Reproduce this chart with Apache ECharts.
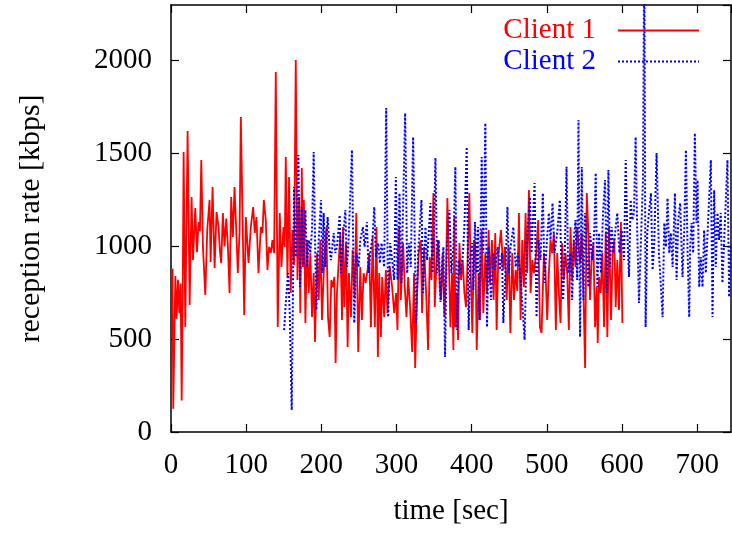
<!DOCTYPE html>
<html><head><meta charset="utf-8">
<script src="https://cdn.jsdelivr.net/npm/echarts@6/dist/echarts.min.js"></script>
<style>html,body{margin:0;padding:0;background:#fff}#c{width:732px;height:533px}</style>
</head><body><div id="c"></div>
<script>
const seriesNames = ['Client 1', 'Client 2'];
const xTickMin = 0, xTickMax = 745, xTickStep = 100;
const yTickMin = 0, yTickMax = 2300, yTickStep = 500;

const client1Time = [2,3,5.8,7.5,9.3,11.1,12.8,14.2,15.5,16.8,19,22.1,24.8,27.4,29.2,32.3,34.5,36.7,38.5,40.3,42.5,45.6,48.2,51.3,52.7,55.3,58,60.6,63.3,65,66.8,69,71.2,73.5,75.7,77.9,80.1,82.3,84.5,86.7,88.9,91.2,
92.9,97.4,99.6,103.1,106.2,109.3,111.5,113.7,116.4,119.5,121.7,123.5,126.1,128.3,130.5,132.8,135,137.2,139.4,142,144.7,146.9,149.6,151.3,152.7,154.9,157.1,159.3,161.5,163.7,166,168.2,170.4,172,174,175.5,176.8,
178.8,181,183.2,185.4,187.6,189.8,191.6,194.3,196.5,198.7,200.9,204,206.7,208.9,211.1,213.3,215.5,217.3,219,220.8,223,225.2,227.5,228.8,230.5,232.8,235,236.7,239.4,241.6,244.3,246.5,249.1,251.8,254,256.2,258.9,261.5,263.7,266,268.2,
271.2,273.4,275.2,277,279.2,281,283.6,285.8,288,291.1,294.2,296.9,299.5,301.3,303.5,305.7,308.8,311,313.3,315.5,318.1,320.8,323.4,324.8,327.4,329.6,332.3,334,336.7,339.8,342,344.2,346.5,349.1,350.9,353.5,355.3,357.5,
359.3,361.5,363.7,365.9,367.7,369.5,371.7,373.9,375.7,377,378.3,380.1,381.9,383.7,385.9,388.1,390.3,392.5,394.7,396.9,398.7,400.9,403.1,404.9,406.7,409.3,411.1,413.3,415.5,418.2,420.4,422.6,424.4,427,429.2,431.4,433.2,435.4,439,442.1,444.3,446.5,449.1,451.5,
454,456.3,458.5,460.7,462.9,465.1,467.3,469.5,471.7,473.9,476.2,478.4,480.6,482.8,485.9,488.5,490.8,493,496.1,498.3,500.5,502.7,504.9,507.1,509.4,512,513.8,516,518.2,520.4,522.6,524.8,527.1,529.3,531.5,533.7,535.9,538.1,540.3,
544.2,546.5,548.7,550.9,553.1,555.3,557.5,559.7,561.9,564.2,566.4,567.7,569.5,571.7,573.9,576.1,578.3,580.5,582.7,585.4,587.6,589.8,591.6,593.8,596,598.6,600.5];
const client1Rate = [880,125,840,610,820,640,800,170,700,1508,565,1621,684,1266,926,1206,969,1131,1080,1465,997,738,1088,1250,916,1320,884,1185,1104,980,910,1180,1000,1150,1000,749,1266,1050,1320,1100,856,1072,
1697,630,1158,910,1104,1212,1072,1158,856,1104,1072,1250,1142,873,997,964,1034,964,1939,565,1180,889,1104,997,1481,835,1373,749,1088,900,2004,819,1266,641,1422,889,1250,
587,1034,749,964,619,856,485,964,711,1034,603,943,1104,619,512,819,781,835,372,749,910,1072,603,1104,673,1018,458,856,619,980,727,1180,431,889,603,856,803,873,964,565,1050,
565,1104,404,856,512,835,619,873,641,889,781,641,749,549,1104,711,1018,781,619,835,673,431,856,345,749,964,1034,641,997,711,442,943,819,1287,673,943,1034,781,
711,964,619,856,1260,964,565,856,442,1158,565,749,496,1018,819,926,749,673,943,1287,856,533,1034,997,442,856,603,1088,641,964,749,1088,803,1034,711,1072,549,943,1088,873,997,711,997,533,
964,711,873,760,1180,603,1034,781,1180,856,1303,749,926,856,964,1142,565,533,964,856,603,856,1034,964,1072,549,964,749,587,1018,819,964,856,549,1104,819,1034,889,1104,
910,1072,749,345,1287,1072,711,943,1018,565,781,479,835,749,964,565,1072,512,1104,603,964,1034,673,926,657,1131,587];

const client2Time = [150.5,152.7,155.8,158,160.6,163.7,166,169.5,171.7,173.9,176.6,178.8,181,183.2,185.4,187.6,189.8,192,193.4,196,199.6,201.3,203.1,205.3,208.4,211.1,212.8,216.4,218.6,220.8,224.4,226.1,228.8,231.9,234.1,236.3,240.7,243.8,246.5,249.6,251.8,255.3,257.5,260.6,262.9,265.1,268.2,
270.4,272.6,275.7,277.9,280.1,283.6,286.3,288.9,291.6,294.2,296.9,299.1,301.3,304,306.6,311.5,314.2,316.8,319,322.1,324.3,326.1,328.8,331,333.2,335.4,338.5,340.7,342.9,345.1,347.8,350,351.8,354,356.2,358.5,360.5,
362.4,364.6,366.8,370.4,373,375.7,378.3,380.6,382.8,385,388.1,390.3,393.4,396,397.8,400.5,402.2,404.4,406.7,408.4,410.2,413.3,415.5,418.2,420.4,422.6,425.7,428.8,431,434.5,437.6,440.3,442.1,445.6,
447.6,449.6,451.8,455.4,458.5,461.6,465.1,468.2,470.4,473.1,474.8,477.5,479.7,483.7,486.3,489,491.6,494.7,497,499.6,502.7,504.9,507.6,510.2,513.8,517.3,519.5,521.7,524,526.2,528.4,531.5,533.7,535.9,538.1,540.3,542.1,
544.2,546.5,548.7,550.9,553.1,555.3,557.5,560.6,563.3,565,567.2,569.5,572.1,574.8,577.4,580.1,581.9,584.1,586.3,588.5,591.6,593.8,596.5,599.6,602.7,604.9,607.1,609.3,611.5,613.7,615.9,618.1,620.3,622.6,625.2,627.9,629.6,631.4,633.6,635.8,
638.5,640.7,642.9,646,649.1,651.8,654,656.2,658.4,660.6,662.8,665,667.3,670.4,672.6,674.8,677.4,680.5,682.8,685,687.2,689.4,690.7,692.5,694.7,696.9,699.1,700.5,702.7,704.9,707.1,709.3,711.5,714.6,718.2,720.4,722.6,724.8,727,729.2,731.4,733.6,735.8,738,740.3,742.5,744.7];
const client2Rate = [549,695,856,641,118,1320,943,1492,781,1212,900,1196,889,1034,964,1088,1508,943,657,997,1250,856,1180,889,1158,980,926,1072,964,997,1169,856,1034,1196,889,1034,1519,587,964,889,1034,1104,997,1131,856,964,1050,
1212,943,1018,910,1018,889,1745,619,1018,926,819,1373,819,1287,803,1718,856,1018,889,1589,1018,587,964,1104,1250,749,1104,926,1072,1233,856,1104,1476,856,1034,700,900,
997,404,980,1196,856,997,1428,549,926,856,943,1104,1535,549,926,1018,765,1131,856,1104,603,1481,964,1664,565,997,711,964,873,997,873,964,587,926,
1212,856,997,1104,889,964,819,641,496,997,1104,1266,964,1341,619,1034,926,1287,803,997,1180,1034,1233,964,1072,1250,856,711,980,1428,856,964,711,1034,1142,819,1680,
512,1428,711,1180,964,781,1072,926,1104,1395,781,1072,856,1180,1357,749,1411,889,1104,964,1104,1180,964,1088,926,1465,1072,835,1250,1142,1180,1589,1072,695,1034,1357,2600,565,1072,1180,
1287,873,1018,1503,964,781,619,1126,997,1260,964,1072,889,1287,819,1142,1233,835,1088,1519,980,619,997,1126,964,1610,1126,1357,781,943,781,1088,856,1142,1465,619,1303,889,1180,1034,1180,803,1018,1018,1465,727,997];

const seriesColors = ['#ff0000', '#0000ff'];
const zip = (t, v) => t.map((x, i) => [x, v[i]]);
const FONT = '"Liberation Serif", "DejaVu Serif", serif';

const baseAxis = {
  type: 'value',
  axisLine: { show: true, onZero: false, lineStyle: { color: '#000', width: 1.5 } },
  axisTick: { show: true, inside: true, length: 8, lineStyle: { color: '#000', width: 1.2 } },
  splitLine: { show: false }
};
const labelStyle = { fontFamily: FONT, fontSize: 29, color: '#000' };
const plain = v => String(v);

const chart = echarts.init(document.getElementById('c'), null, { renderer: 'canvas' });
chart.setOption({
  animation: false,
  backgroundColor: '#fff',
  grid: { left: 171, right: 1, top: 5, bottom: 101, containLabel: false },
  xAxis: [
    Object.assign({}, baseAxis, {
      position: 'bottom', min: xTickMin, max: xTickMax, interval: xTickStep,
      axisLabel: Object.assign({ margin: 19, showMaxLabel: false, formatter: plain }, labelStyle),
      name: 'time [sec]', nameLocation: 'middle', nameGap: 65,
      nameTextStyle: Object.assign({ verticalAlign: 'top' }, labelStyle)
    }),
    Object.assign({}, baseAxis, {
      position: 'top', min: xTickMin, max: xTickMax, interval: xTickStep,
      axisLabel: { show: false }
    })
  ],
  yAxis: [
    Object.assign({}, baseAxis, {
      position: 'left', min: yTickMin, max: yTickMax, interval: yTickStep,
      axisLabel: Object.assign({ margin: 19, showMaxLabel: false, formatter: plain }, labelStyle),
      name: 'reception rate [kbps]', nameLocation: 'middle', nameGap: 125, nameRotate: 90,
      nameTextStyle: Object.assign({}, labelStyle, { fontSize: 30 })
    }),
    Object.assign({}, baseAxis, {
      position: 'right', min: yTickMin, max: yTickMax, interval: yTickStep,
      axisLabel: { show: false }
    })
  ],
  legend: {
    orient: 'vertical', right: 27, top: 11, align: 'right',
    itemWidth: 81, itemHeight: 14, itemGap: 2,
    itemStyle: { opacity: 0 },
    data: seriesNames,
    formatter: function (name) { return name === seriesNames[0] ? '{a|' + name + '}' : '{b|' + name + '}'; },
    textStyle: {
      fontFamily: FONT, fontSize: 29, lineHeight: 29,
      rich: {
        a: { color: seriesColors[0], fontFamily: FONT, fontSize: 29, lineHeight: 29, padding: [0, 17, 0, 0] },
        b: { color: seriesColors[1], fontFamily: FONT, fontSize: 29, lineHeight: 29, padding: [0, 17, 0, 0] }
      }
    }
  },
  series: [
    { name: seriesNames[0], type: 'line', data: zip(client1Time, client1Rate), showSymbol: false, symbol: 'none',
      clip: true, lineStyle: { color: seriesColors[0], width: 1.8 }, itemStyle: { color: seriesColors[0] } },
    { name: seriesNames[1], type: 'line', data: zip(client2Time, client2Rate), showSymbol: false, symbol: 'none',
      clip: true, lineStyle: { color: seriesColors[1], width: 2, type: [2, 2] }, itemStyle: { color: seriesColors[1] } }
  ]
});
</script></body></html>
